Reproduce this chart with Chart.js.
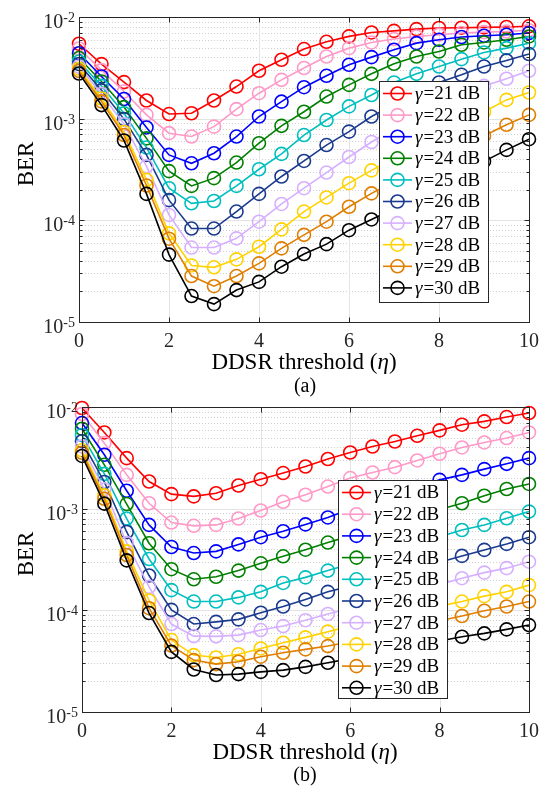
<!DOCTYPE html>
<html>
<head>
<meta charset="utf-8">
<script src="https://cdn.jsdelivr.net/npm/chart.js@4.4.1/dist/chart.umd.min.js"></script>
<style>
  html, body { margin: 0; padding: 0; background: #fff; }
  body { width: 547px; height: 787px; position: relative; overflow: hidden;
         font-family: "Liberation Serif", "Times New Roman", serif; color: #000; }
  canvas { position: absolute; left: 0; }
  #cA { top: 0; }
  #cB { top: 395px; }
  .lbl { position: absolute; white-space: nowrap; line-height: 1; }
  .xl { font-size: 23px; transform: translateX(-50%); }
  .cap { font-size: 20px; transform: translateX(-50%); }
  .yl { font-size: 23px; transform: translate(-50%, -50%) rotate(-90deg); }
</style>
</head>
<body>
<canvas id="cA" width="547" height="395"></canvas>
<canvas id="cB" width="547" height="392"></canvas>

<div class="lbl yl" style="left:25px; top:164px">BER</div>
<div class="lbl xl" style="left:304px; top:350px">DDSR threshold (<i>η</i>)</div>
<div class="lbl cap" style="left:305px; top:375px">(a)</div>

<div class="lbl yl" style="left:25px; top:554px">BER</div>
<div class="lbl xl" style="left:305px; top:740px">DDSR threshold (<i>η</i>)</div>
<div class="lbl cap" style="left:305px; top:764px">(b)</div>

<script>
// threshold values on the x axis
const ETA = [0, 0.5, 1, 1.5, 2, 2.5, 3, 3.5, 4, 4.5, 5, 5.5, 6, 6.5, 7, 7.5, 8, 8.5, 9, 9.5, 10];
const X_TICKS = [0, 2, 4, 6, 8, 10];
const Y_DECADES = [-5, -4, -3, -2];
const GAMMA_DB = [21, 22, 23, 24, 25, 26, 27, 28, 29, 30];
const COLORS = ['#ff0000', '#ff99c8', '#0000ff', '#008000', '#00bfbf',
                '#1a3a8f', '#d6b0ff', '#ffd200', '#e07e00', '#000000'];

// panel (a)
const a21 = [5.46e-3, 3.44e-3, 2.29e-3, 1.51e-3, 1.11e-3, 1.13e-3, 1.51e-3, 2.07e-3, 2.96e-3, 3.8e-3, 4.84e-3, 5.7e-3, 6.45e-3, 7.05e-3, 7.3e-3, 7.6e-3, 7.8e-3, 7.85e-3, 7.9e-3, 7.97e-3, 8.1e-3];
const a22 = [4.9e-3, 3.0e-3, 1.85e-3, 1.09e-3, 7.2e-4, 6.67e-4, 8.35e-4, 1.24e-3, 1.78e-3, 2.41e-3, 3.15e-3, 4.09e-3, 4.94e-3, 5.62e-3, 6.07e-3, 6.44e-3, 6.7e-3, 6.95e-3, 7.1e-3, 7.2e-3, 7.4e-3];
const a23 = [4.4e-3, 2.6e-3, 1.56e-3, 8.2e-4, 4.4e-4, 3.64e-4, 4.57e-4, 6.67e-4, 1.05e-3, 1.47e-3, 2.04e-3, 2.64e-3, 3.39e-3, 4.03e-3, 4.77e-3, 5.53e-3, 5.97e-3, 6.35e-3, 6.55e-3, 6.7e-3, 6.95e-3];
const a24 = [3.95e-3, 2.32e-3, 1.3e-3, 6.4e-4, 3.05e-4, 2.18e-4, 2.6e-4, 3.7e-4, 5.74e-4, 8.5e-4, 1.17e-3, 1.65e-3, 2.15e-3, 2.76e-3, 3.47e-3, 4.09e-3, 4.58e-3, 5.33e-3, 5.62e-3, 5.97e-3, 6.44e-3];
const a25 = [3.65e-3, 2.1e-3, 1.13e-3, 5.2e-4, 2.07e-4, 1.47e-4, 1.55e-4, 2.18e-4, 3.18e-4, 4.5e-4, 6.9e-4, 9.7e-4, 1.32e-3, 1.71e-3, 2.27e-3, 2.76e-3, 3.26e-3, 3.85e-3, 4.48e-3, 4.94e-3, 5.53e-3];
const a26 = [3.45e-3, 1.9e-3, 9.9e-4, 4.4e-4, 1.58e-4, 8.3e-5, 8.3e-5, 1.22e-4, 1.82e-4, 2.7e-4, 3.84e-4, 5.5e-4, 7.46e-4, 1.05e-3, 1.38e-3, 1.78e-3, 2.27e-3, 2.7e-3, 3.26e-3, 3.74e-3, 4.32e-3];
const a27 = [3.25e-3, 1.75e-3, 8.8e-4, 3.4e-4, 1.13e-4, 5.4e-5, 5.4e-5, 6.65e-5, 9.7e-5, 1.45e-4, 2.07e-4, 2.95e-4, 4.2e-4, 5.9e-4, 8.0e-4, 1.05e-3, 1.35e-3, 1.7e-3, 2.1e-3, 2.47e-3, 2.96e-3];
const a28 = [3.1e-3, 1.58e-3, 7.4e-4, 2.5e-4, 7.45e-5, 3.6e-5, 3.45e-5, 4.13e-5, 5.5e-5, 8.15e-5, 1.22e-4, 1.68e-4, 2.32e-4, 3.1e-4, 4.1e-4, 5.4e-4, 7.0e-4, 9.0e-4, 1.17e-3, 1.53e-3, 1.81e-3];
const a29 = [2.95e-3, 1.48e-3, 6.9e-4, 2.2e-4, 6.6e-5, 2.83e-5, 2.25e-5, 2.83e-5, 3.77e-5, 5.3e-5, 7.2e-5, 9.7e-5, 1.36e-4, 1.84e-4, 2.4e-4, 3.1e-4, 4.0e-4, 5.2e-4, 6.8e-4, 8.7e-4, 1.09e-3];
const a30 = [2.78e-3, 1.36e-3, 6.1e-4, 1.82e-4, 4.6e-5, 1.8e-5, 1.5e-5, 2.06e-5, 2.48e-5, 3.5e-5, 4.66e-5, 5.83e-5, 8.0e-5, 1.02e-4, 1.3e-4, 1.68e-4, 2.15e-4, 2.9e-4, 3.8e-4, 4.93e-4, 6.28e-4];

// panel (b)
const b21 = [9.77e-3, 5.62e-3, 3.14e-3, 1.85e-3, 1.39e-3, 1.32e-3, 1.42e-3, 1.69e-3, 1.95e-3, 2.24e-3, 2.6e-3, 3.08e-3, 3.57e-3, 4.09e-3, 4.58e-3, 5.21e-3, 5.89e-3, 6.7e-3, 7.22e-3, 7.96e-3, 8.73e-3];
const b22 = [8.53e-3, 4.41e-3, 2.15e-3, 1.13e-3, 7.3e-4, 6.78e-4, 6.92e-4, 8.0e-4, 9.6e-4, 1.17e-3, 1.37e-3, 1.65e-3, 2.0e-3, 2.27e-3, 2.56e-3, 2.98e-3, 3.47e-3, 4.0e-3, 4.48e-3, 4.95e-3, 5.62e-3];
const b23 = [6.95e-3, 3.39e-3, 1.5e-3, 6.92e-4, 4.2e-4, 3.66e-4, 3.8e-4, 4.45e-4, 5.24e-4, 6.0e-4, 7.0e-4, 8.2e-4, 9.9e-4, 1.17e-3, 1.38e-3, 1.63e-3, 1.92e-3, 2.15e-3, 2.45e-3, 2.76e-3, 3.14e-3];
const b24 = [6.11e-3, 2.7e-3, 1.11e-3, 4.57e-4, 2.54e-4, 2.02e-4, 2.14e-4, 2.46e-4, 2.9e-4, 3.4e-4, 3.95e-4, 4.64e-4, 5.4e-4, 6.3e-4, 7.3e-4, 8.5e-4, 9.8e-4, 1.13e-3, 1.34e-3, 1.56e-3, 1.75e-3];
const b25 = [5.3e-3, 2.2e-3, 8.0e-4, 3.2e-4, 1.58e-4, 1.22e-4, 1.22e-4, 1.34e-4, 1.52e-4, 1.86e-4, 2.11e-4, 2.46e-4, 2.85e-4, 3.3e-4, 3.9e-4, 4.5e-4, 5.3e-4, 6.17e-4, 6.92e-4, 8.05e-4, 9.36e-4];
const b26 = [4.6e-3, 1.83e-3, 5.9e-4, 2.2e-4, 1.01e-4, 7.33e-5, 7.7e-5, 8.15e-5, 9.47e-5, 1.09e-4, 1.28e-4, 1.52e-4, 1.73e-4, 1.97e-4, 2.25e-4, 2.58e-4, 2.97e-4, 3.43e-4, 3.93e-4, 4.5e-4, 5.24e-4];
const b27 = [4.1e-3, 1.55e-3, 4.6e-4, 1.7e-4, 7.33e-5, 5.58e-5, 5.55e-5, 5.7e-5, 6.4e-5, 7.0e-5, 8.0e-5, 9.2e-5, 1.05e-4, 1.2e-4, 1.37e-4, 1.57e-4, 1.8e-4, 2.07e-4, 2.35e-4, 2.6e-4, 3.01e-4];
const b28 = [3.75e-3, 1.35e-3, 3.8e-4, 1.25e-4, 5.1e-5, 3.63e-5, 3.44e-5, 3.7e-5, 4.22e-5, 4.8e-5, 5.42e-5, 6.17e-5, 7.0e-5, 7.9e-5, 8.8e-5, 9.8e-5, 1.1e-4, 1.22e-4, 1.38e-4, 1.52e-4, 1.77e-4];
const b29 = [3.55e-3, 1.25e-3, 3.5e-4, 1.05e-4, 4.5e-5, 3.24e-5, 2.96e-5, 3.12e-5, 3.5e-5, 3.82e-5, 4.13e-5, 4.45e-5, 4.9e-5, 5.5e-5, 6.2e-5, 7.0e-5, 7.9e-5, 8.8e-5, 9.9e-5, 1.09e-4, 1.22e-4];
const b30 = [3.3e-3, 1.12e-3, 3.1e-4, 9.4e-5, 3.9e-5, 2.62e-5, 2.31e-5, 2.36e-5, 2.48e-5, 2.58e-5, 2.78e-5, 3.05e-5, 3.35e-5, 3.7e-5, 4.1e-5, 4.5e-5, 5.0e-5, 5.5e-5, 5.93e-5, 6.5e-5, 7.16e-5];

const SERIES_A = [a21, a22, a23, a24, a25, a26, a27, a28, a29, a30];
const SERIES_B = [b21, b22, b23, b24, b25, b26, b27, b28, b29, b30];

const FONT = '"Liberation Serif", "Times New Roman", serif';
const AXIS_COLOR = '#262626';

// grid, box, inside ticks and 10^n labels in the MATLAB look
const axesDecor = {
  id: 'axesDecor',
  beforeDatasetsDraw(chart) {
    const { ctx, chartArea: a, scales: { x, y } } = chart;
    ctx.save();
    ctx.lineWidth = 1;
    // minor dotted lines between decades
    ctx.strokeStyle = '#cfcfcf';
    ctx.setLineDash([1, 2]);
    for (let i = 0; i < Y_DECADES.length - 1; i++) {
      for (let k = 2; k <= 9; k++) {
        const py = Math.round(y.getPixelForValue(k * Math.pow(10, Y_DECADES[i]))) + 0.5;
        ctx.beginPath(); ctx.moveTo(a.left, py); ctx.lineTo(a.right, py); ctx.stroke();
      }
    }
    // major solid lines
    ctx.setLineDash([]);
    ctx.strokeStyle = '#e3e3e3';
    for (const d of Y_DECADES) {
      const py = Math.round(y.getPixelForValue(Math.pow(10, d))) + 0.5;
      ctx.beginPath(); ctx.moveTo(a.left, py); ctx.lineTo(a.right, py); ctx.stroke();
    }
    for (const t of X_TICKS) {
      const px = Math.round(x.getPixelForValue(t)) + 0.5;
      ctx.beginPath(); ctx.moveTo(px, a.top); ctx.lineTo(px, a.bottom); ctx.stroke();
    }
    ctx.restore();
  },
  afterDatasetsDraw(chart) {
    const { ctx, chartArea: a, scales: { x, y } } = chart;
    ctx.save();
    ctx.strokeStyle = AXIS_COLOR;
    ctx.lineWidth = 1;
    const L = Math.round(a.left) + 0.5, R = Math.round(a.right) + 0.5;
    const T = Math.round(a.top) + 0.5, B = Math.round(a.bottom) + 0.5;
    ctx.strokeRect(L, T, R - L, B - T);
    ctx.beginPath();
    for (const t of X_TICKS) {
      const px = Math.round(x.getPixelForValue(t)) + 0.5;
      ctx.moveTo(px, B); ctx.lineTo(px, B - 5);
      ctx.moveTo(px, T); ctx.lineTo(px, T + 5);
    }
    for (let i = 0; i < Y_DECADES.length; i++) {
      const py = Math.round(y.getPixelForValue(Math.pow(10, Y_DECADES[i]))) + 0.5;
      ctx.moveTo(L, py); ctx.lineTo(L + 5, py);
      ctx.moveTo(R, py); ctx.lineTo(R - 5, py);
      if (i === Y_DECADES.length - 1) break;
      for (let k = 2; k <= 9; k++) {
        const pm = Math.round(y.getPixelForValue(k * Math.pow(10, Y_DECADES[i]))) + 0.5;
        ctx.moveTo(L, pm); ctx.lineTo(L + 3, pm);
        ctx.moveTo(R, pm); ctx.lineTo(R - 3, pm);
      }
    }
    ctx.stroke();

    // decade labels: "10" with a raised exponent
    ctx.fillStyle = AXIS_COLOR;
    ctx.textBaseline = 'alphabetic';
    ctx.textAlign = 'left';
    for (const d of Y_DECADES) {
      const py = y.getPixelForValue(Math.pow(10, d));
      const exp = String(d);
      ctx.font = '14px ' + FONT;
      const wExp = ctx.measureText(exp).width;
      ctx.font = '20px ' + FONT;
      const wBase = ctx.measureText('10').width;
      const x0 = a.left - 4 - wExp - wBase;
      ctx.fillText('10', x0, py + 11);
      ctx.font = '14px ' + FONT;
      ctx.fillText(exp, x0 + wBase, py + 5);
    }
    ctx.restore();
  }
};

// boxed legend placed inside the axes
const boxLegend = {
  id: 'boxLegend',
  afterDraw(chart, args, opts) {
    const { ctx } = chart;
    const { left, top, width, height, rowGap } = opts;
    ctx.save();
    ctx.fillStyle = '#fff';
    ctx.fillRect(left, top, width, height);
    ctx.strokeStyle = AXIS_COLOR;
    ctx.lineWidth = 1;
    ctx.strokeRect(left + 0.5, top + 0.5, width, height);
    ctx.textBaseline = 'middle';
    ctx.textAlign = 'left';
    chart.data.datasets.forEach((ds, i) => {
      const cy = top + 12.5 + i * rowGap;
      ctx.strokeStyle = ds.borderColor;
      ctx.lineWidth = 1.6;
      ctx.beginPath(); ctx.moveTo(left + 4, cy); ctx.lineTo(left + 33, cy); ctx.stroke();
      ctx.beginPath(); ctx.arc(left + 18.5, cy, 6.5, 0, Math.PI * 2); ctx.stroke();
      // italic gamma, upright remainder
      ctx.fillStyle = '#000';
      const sym = ds.label.charAt(0), rest = ds.label.slice(1);
      ctx.font = 'italic 19px ' + FONT;
      ctx.fillText(sym, left + 36, cy + 1);
      const w = ctx.measureText(sym).width;
      ctx.font = '19px ' + FONT;
      ctx.fillText(rest, left + 37 + w, cy + 1);
    });
    ctx.restore();
  }
};

function makeChart(id, series, area, legendBox) {
  const canvas = document.getElementById(id);
  const W = canvas.width, H = canvas.height;
  const datasets = series.map((vals, i) => ({
    label: 'γ=' + GAMMA_DB[i] + ' dB',
    data: ETA.map((e, j) => ({ x: e, y: vals[j] })),
    borderColor: COLORS[i],
    pointBorderColor: COLORS[i],
    pointBackgroundColor: 'rgba(0,0,0,0)',
    borderWidth: 1.6,
    pointBorderWidth: 1.6,
    pointRadius: 6.5,
    tension: 0,
    clip: 12,
    order: series.length - i
  }));
  return new Chart(canvas, {
    type: 'line',
    data: { datasets },
    options: {
      responsive: false,
      animation: false,
      events: [],
      layout: { padding: { left: 0, top: area.top, right: W - area.right, bottom: 0 } },
      plugins: {
        legend: { display: false },
        tooltip: { enabled: false },
        boxLegend: legendBox
      },
      scales: {
        x: {
          type: 'linear', min: 0, max: 10,
          grid: { display: false, drawTicks: false },
          border: { display: false },
          ticks: { stepSize: 2, padding: 8, color: AXIS_COLOR, font: { family: FONT, size: 20 } },
          afterFit: s => { s.height = H - area.bottom; }
        },
        y: {
          type: 'logarithmic', min: 1e-5, max: 1e-2,
          grid: { display: false, drawTicks: false },
          border: { display: false },
          ticks: { callback: () => '' },
          afterFit: s => { s.width = area.left; }
        }
      }
    },
    plugins: [axesDecor, boxLegend]
  });
}

makeChart('cA', SERIES_A, { left: 79, right: 530, top: 17, bottom: 322 },
          { left: 379, top: 81, width: 109, height: 221, rowGap: 21.6 });
makeChart('cB', SERIES_B, { left: 82, right: 531, top: 12, bottom: 317 },
          { left: 338, top: 85, width: 109, height: 218, rowGap: 21.7 });
</script>
</body>
</html>
